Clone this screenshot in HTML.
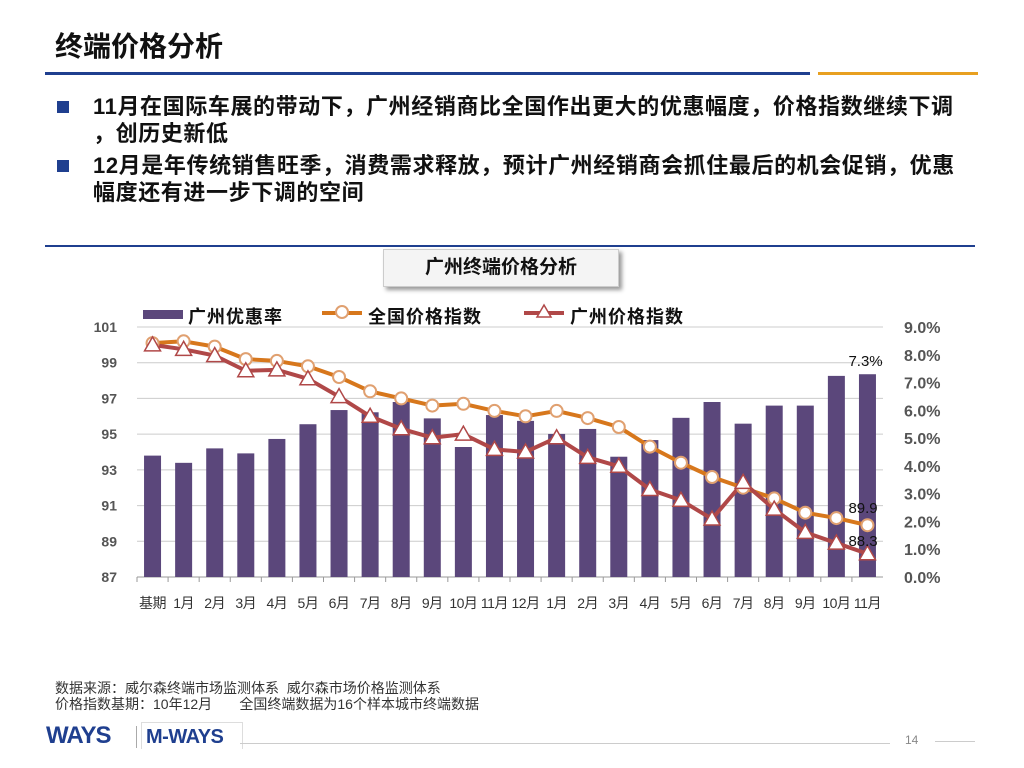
<!DOCTYPE html>
<html><head><meta charset="utf-8"><style>
body{margin:0;width:1024px;height:768px;background:#fff;position:relative;overflow:hidden;font-family:"Liberation Sans","Noto Sans CJK SC",sans-serif}
.abs{position:absolute}
.b{font-weight:bold;color:#111;font-size:22px;line-height:27px;letter-spacing:0.6px;white-space:nowrap}
</style></head><body>
<div class="abs" style="left:55px;top:25px;font-size:28px;font-weight:bold;color:#111">终端价格分析</div>
<div class="abs" style="left:45px;top:72px;width:765px;height:3px;background:#1f3f8f"></div>
<div class="abs" style="left:818px;top:72px;width:160px;height:3px;background:#e8a020"></div>
<div class="abs" style="left:57px;top:101px;width:12px;height:12px;background:#1f3f8f"></div>
<div class="abs b" style="left:93px;top:93px">11月在国际车展的带动下，广州经销商比全国作出更大的优惠幅度，价格指数继续下调<br>，创历史新低</div>
<div class="abs" style="left:57px;top:160px;width:12px;height:12px;background:#1f3f8f"></div>
<div class="abs b" style="left:93px;top:152px">12月是年传统销售旺季，消费需求释放，预计广州经销商会抓住最后的机会促销，优惠<br>幅度还有进一步下调的空间</div>
<div class="abs" style="left:45px;top:245px;width:930px;height:2px;background:#1f3f8f"></div>
<div class="abs" style="left:383px;top:249px;width:234px;height:36px;border:1px solid #ccc;background:#f4f4f4;box-shadow:3px 3px 4px #999;text-align:center;line-height:36px;font-size:19px;font-weight:bold;color:#111">广州终端价格分析</div>
<svg class="abs" style="left:0;top:0" width="1024" height="768" id="chart"></svg>
<div class="abs" style="left:55px;top:680px;font-size:14px;color:#333;line-height:16px;white-space:nowrap">数据来源：威尔森终端市场监测体系&nbsp;&nbsp;威尔森市场价格监测体系<br>价格指数基期：10年12月&nbsp;&nbsp;&nbsp;&nbsp;&nbsp;&nbsp;&nbsp;全国终端数据为16个样本城市终端数据</div>
<div class="abs" style="left:46px;top:722px;font-size:24px;font-weight:bold;color:#1f3f8f;letter-spacing:-1px">WAYS</div>
<div class="abs" style="left:136px;top:726px;width:1px;height:22px;background:#aaa"></div>
<div class="abs" style="left:141px;top:722px;width:96px;height:26px;border:1px solid #ddd;border-bottom:none;font-size:20px;font-weight:bold;color:#1f3f8f;padding-left:4px;line-height:28px;letter-spacing:-0.5px">M-WAYS</div>
<div class="abs" style="left:240px;top:743px;width:650px;height:1px;background:#ccc"></div>
<div class="abs" style="left:905px;top:733px;font-size:12px;color:#888">14</div>
<div class="abs" style="left:935px;top:741px;width:40px;height:1px;background:#ccc"></div>
<script>
const categories=["基期","1月","2月","3月","4月","5月","6月","7月","8月","9月","10月","11月","12月","1月","2月","3月","4月","5月","6月","7月","8月","9月","10月","11月"];
const gzDiscount=[4.37,4.11,4.63,4.45,4.97,5.5,6.01,5.93,6.3,5.71,4.68,5.83,5.62,5.15,5.33,4.33,4.93,5.73,6.3,5.52,6.17,6.17,7.24,7.3];
const nationalIndex=[100.1,100.2,99.9,99.2,99.1,98.8,98.2,97.4,97.0,96.6,96.7,96.3,96.0,96.3,95.9,95.4,94.3,93.4,92.6,92.0,91.4,90.6,90.3,89.9];
const gzIndex=[100.0,99.75,99.4,98.55,98.6,98.1,97.1,96.0,95.3,94.8,95.0,94.15,94.0,94.8,93.7,93.2,91.9,91.3,90.25,92.3,90.8,89.5,88.9,88.3];
const leftTicks=[87,89,91,93,95,97,99,101];
const rightTicks=[0,1,2,3,4,5,6,7,8,9];
const NS="http://www.w3.org/2000/svg",svg=document.getElementById('chart');
const X0=137,X1=883,Y0=577,Y1=327,n=categories.length,bw=(X1-X0)/n;
const xc=i=>X0+bw*(i+0.5);
const yL=v=>Y0-(v-87)/(101-87)*(Y0-Y1);
const yR=v=>Y0-v/9*(Y0-Y1);
function el(t,a,p){const e=document.createElementNS(NS,t);for(const k in a)e.setAttribute(k,a[k]);(p||svg).appendChild(e);return e;}
leftTicks.forEach(v=>{const l=el('line',{x1:X0,x2:X1,y1:yL(v),y2:yL(v),stroke:v===87?'#999':'#ccc','stroke-width':1});


const t=el('text',{x:117,y:yL(v)+5,'text-anchor':'end','font-size':14,'font-weight':'bold',fill:'#555'});t.textContent=v;

});
rightTicks.forEach(v=>{const t=el('text',{x:904,y:yR(v)+6,'font-size':16,'font-weight':'bold',fill:'#555'});t.textContent=v.toFixed(1)+'%';

});
categories.forEach((c,i)=>{const tk=el('line',{x1:X0+bw*i,x2:X0+bw*i,y1:Y0,y2:Y0+5,stroke:'#999'});


const t=el('text',{x:xc(i),y:608,'text-anchor':'middle','font-size':14,fill:'#333','letter-spacing':-0.5});t.textContent=c;

});
gzDiscount.forEach((v,i)=>{const r=el('rect',{x:xc(i)-8.5,y:yR(v),width:17,height:Y0-yR(v),fill:'#5b477b'});

});
function line(vals,color,name){const p=el('polyline',{points:vals.map((v,i)=>xc(i)+','+yL(v)).join(' '),fill:'none',stroke:color,'stroke-width':4,'stroke-linejoin':'round'});

}
line(nationalIndex,'#d7771c','national-index-line');
line(gzIndex,'#b04848','guangzhou-index-line');
nationalIndex.forEach((v,i)=>{const c=el('circle',{cx:xc(i),cy:yL(v),r:6,fill:'#fff',stroke:'#e0a070','stroke-width':2});

});
gzIndex.forEach((v,i)=>{const x=xc(i),y=yL(v);const p=el('polygon',{points:`${x},${y-8} ${x-8},${y+6} ${x+8},${y+6}`,fill:'#fff',stroke:'#b04848','stroke-width':1.5});

});
const last=n-1;
[[gzDiscount[last].toFixed(1)+'%',yR(gzDiscount[last])-8],[nationalIndex[last].toFixed(1),yL(nationalIndex[last])-12],[gzIndex[last].toFixed(1),yL(gzIndex[last])-8]].forEach((d,k)=>{
const t=el('text',{x:xc(last)-19,y:d[1],'font-size':15,fill:'#111'});t.textContent=d[0];

});
const lg=el('g',{});


el('rect',{x:143,y:310,width:40,height:9,fill:'#5b477b'},lg);
el('line',{x1:322,x2:362,y1:313,y2:313,stroke:'#d7771c','stroke-width':4},lg);
el('circle',{cx:342,cy:312,r:6,fill:'#fff',stroke:'#e0a070','stroke-width':2},lg);
el('line',{x1:524,x2:564,y1:313,y2:313,stroke:'#b04848','stroke-width':4},lg);
el('polygon',{points:'544,305 537,317 551,317',fill:'#fff',stroke:'#b04848','stroke-width':1.5},lg);
[['广州优惠率',188],['全国价格指数',368],['广州价格指数',570]].forEach(d=>{const t=el('text',{x:d[1],y:323,'font-size':18,'font-weight':'bold',fill:'#111','letter-spacing':1});t.textContent=d[0];lg.appendChild(t);});
</script>
</body></html>
